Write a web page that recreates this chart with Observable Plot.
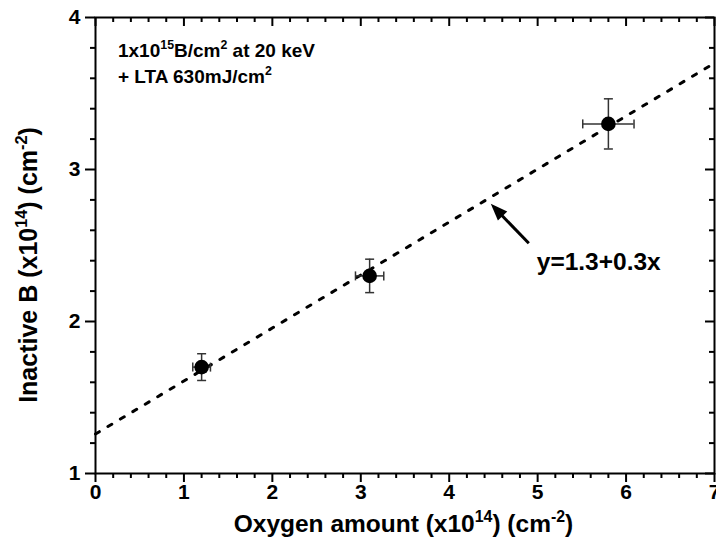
<!DOCTYPE html>
<html><head><meta charset="utf-8">
<script src="https://cdn.jsdelivr.net/npm/d3@7"></script>
<script src="https://cdn.jsdelivr.net/npm/@observablehq/plot@0.6"></script>
<style>html,body{margin:0;padding:0;background:#fff}</style>
</head><body><div id="chart"></div>
<script>
// ---- data ----
const oxygen = [1.2, 3.1, 5.8];
const inactiveB = [1.7, 2.3, 3.3];
const oxygenErr = [0.1, 0.16, 0.29];
const inactiveErr = [0.088, 0.11, 0.165];
const fitX = [0, 7];
const fitY = [1.26, 3.70];
const xMajorTicks = [0, 1, 2, 3, 4, 5, 6, 7];
const yMajorTicks = [1, 2, 3, 4];
const xMinorTicks = d3.range(0, 7.001, 0.2).map(v => +v.toFixed(1)).filter(v => !Number.isInteger(v));
const yMinorTicks = d3.range(1, 4.001, 0.2).map(v => +v.toFixed(1)).filter(v => !Number.isInteger(v));
const arrowTail = [4.90, 2.515];
const arrowShaftEnd = [4.564, 2.717];
const arrowTip = [4.47, 2.774];
const fitLabel = "y=1.3+0.3x";
const fitLabelPos = [4.99, 2.336];
const noteLines = [
  [["1x10"], ["15", true], ["B/cm"], ["2", true], [" at 20 keV"]],
  [["+ LTA 630mJ/cm"], ["2", true]]
];
const noteX = 0.26;
const noteY = [3.737, 3.566];
const xTitle = [["Oxygen amount (x10"], ["14", true], [") (cm"], ["-2", true], [")"]];
const yTitle = [["Inactive B (x10"], ["14", true], [") (cm"], ["-2", true], [")"]];

// ---- layout ----
const W = 716, H = 544, mL = 95, mR = 2, mT = 17, mB = 71;
const font = "'Liberation Sans', Arial, Helvetica, sans-serif";
const points = oxygen.map((x, i) => ({x, y: inactiveB[i], xe: oxygenErr[i], ye: inactiveErr[i]}));
const fit = fitX.map((x, i) => ({x, y: fitY[i]}));
const hCap = {draw(ctx) { ctx.moveTo(-4.5, 0); ctx.lineTo(4.5, 0); }};
const vCap = {draw(ctx) { ctx.moveTo(0, -4.5); ctx.lineTo(0, 4.5); }};
const head = {draw(ctx) { ctx.moveTo(0, 0); ctx.lineTo(-6.5, 17); ctx.lineTo(6.5, 17); ctx.closePath(); }};
const errColor = "#333";

const plot = Plot.plot({
  width: W, height: H,
  marginLeft: mL, marginRight: mR, marginTop: mT, marginBottom: mB,
  x: {domain: [0, 7]},
  y: {domain: [1, 4]},
  style: {fontFamily: font, fontSize: "21px", fontWeight: "bold", color: "#000", background: "#fff", overflow: "visible"},
  marks: [
    Plot.axisX({ticks: xMajorTicks, tickSize: 9, tickPadding: 2, strokeWidth: 2, label: null, tickFormat: d => String(d)}),
    Plot.axisX({ticks: xMinorTicks, tickSize: 5, strokeWidth: 2, label: null, tickFormat: () => ""}),
    Plot.axisY({ticks: yMajorTicks, tickSize: 10, tickPadding: 5, strokeWidth: 2, label: null, tickFormat: d => String(d)}),
    Plot.axisY({ticks: yMinorTicks, tickSize: 5, strokeWidth: 2, label: null, tickFormat: () => ""}),
    Plot.ruleX(xMajorTicks, {strokeWidth: 2, insetBottom: H - mT - mB - 9}),
    Plot.ruleX(xMinorTicks, {strokeWidth: 2, insetBottom: H - mT - mB - 5}),
    Plot.ruleY(yMajorTicks, {strokeWidth: 2, insetLeft: W - mL - mR - 9}),
    Plot.ruleY(yMinorTicks, {strokeWidth: 2, insetLeft: W - mL - mR - 5}),
    Plot.frame({stroke: "#000", strokeWidth: 2}),
    Plot.line(fit, {x: "x", y: "y", stroke: "#000", strokeWidth: 3, strokeDasharray: "4.5,10"}),
    Plot.ruleX(points, {x: "x", y1: d => d.y - d.ye, y2: d => d.y + d.ye, stroke: errColor, strokeWidth: 1.5}),
    Plot.ruleY(points, {y: "y", x1: d => d.x - d.xe, x2: d => d.x + d.xe, stroke: errColor, strokeWidth: 1.5}),
    Plot.dot(points, {x: "x", y: d => d.y + d.ye, symbol: hCap, fill: "none", stroke: errColor, strokeWidth: 1.5}),
    Plot.dot(points, {x: "x", y: d => d.y - d.ye, symbol: hCap, fill: "none", stroke: errColor, strokeWidth: 1.5}),
    Plot.dot(points, {x: d => d.x - d.xe, y: "y", symbol: vCap, fill: "none", stroke: errColor, strokeWidth: 1.5}),
    Plot.dot(points, {x: d => d.x + d.xe, y: "y", symbol: vCap, fill: "none", stroke: errColor, strokeWidth: 1.5}),
    Plot.dot(points, {x: "x", y: "y", r: 7.3, fill: "#000", stroke: "none"}),
    Plot.link([0], {x1: () => arrowTail[0], y1: () => arrowTail[1], x2: () => arrowShaftEnd[0], y2: () => arrowShaftEnd[1], stroke: "#000", strokeWidth: 3}),
    Plot.dot([0], {x: () => arrowTip[0], y: () => arrowTip[1], symbol: head, rotate: -44, fill: "#000", stroke: "none"}),
    Plot.text([0], {x: () => fitLabelPos[0], y: () => fitLabelPos[1], text: () => fitLabel, textAnchor: "start", lineAnchor: "bottom", fontSize: 24.5, fontWeight: "bold"})
  ]
});
document.getElementById("chart").appendChild(plot);

const svg = d3.select(plot);
svg.selectAll('g[aria-label="x-axis tick label"], g[aria-label="y-axis tick label"]')
  .attr("font-weight", "bold").attr("font-size", 21).attr("font-family", font);

// ---- rich text (superscripts) ----
const sx = plot.scale("x"), sy = plot.scale("y");
function rich(textSel, parts, size) {
  const supSize = size * 0.65, rise = size * 0.42;
  let up = false;
  for (const [str, sup] of parts) {
    const t = textSel.append("tspan").text(str);
    if (sup && !up) { t.attr("dy", -rise).attr("font-size", supSize); up = true; }
    else if (sup) { t.attr("font-size", supSize); }
    else if (up) { t.attr("dy", rise); up = false; }
  }
}
const g = svg.append("g").attr("font-family", font).attr("font-weight", "bold").attr("fill", "#000");
noteLines.forEach((parts, i) => {
  const t = g.append("text").attr("x", sx.apply(noteX)).attr("y", sy.apply(noteY[i]))
    .attr("text-anchor", "start").attr("font-size", 19);
  rich(t, parts, 19);
});
const xt = g.append("text").attr("x", (mL + W - mR) / 2 - 1).attr("y", H - 12).attr("text-anchor", "middle").attr("font-size", 24.5);
rich(xt, xTitle, 24.5);
const yt = g.append("text").attr("transform", `translate(37,265) rotate(-90)`).attr("text-anchor", "middle").attr("font-size", 25);
rich(yt, yTitle, 25);
</script>
</body></html>
